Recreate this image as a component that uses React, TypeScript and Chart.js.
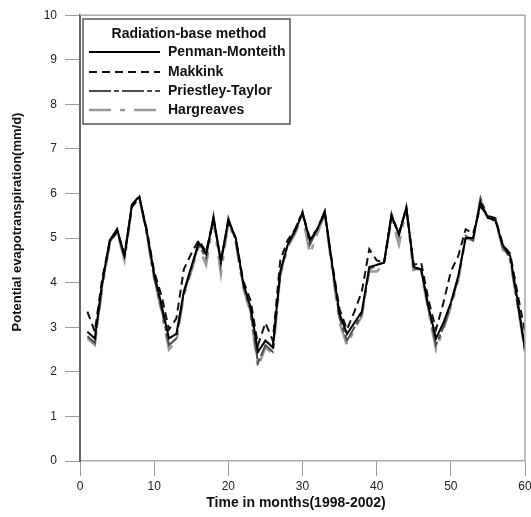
import React, { useEffect, useRef } from "react";
import { Chart, registerables } from "chart.js";

Chart.register(...registerables);

const months: number[] = Array.from({ length: 60 }, (_, i) => i + 1);

const penmanMonteith = [
  2.9, 2.75, 4.0, 4.95, 5.2, 4.6, 5.75, 5.93, 5.15, 4.2, 3.5, 2.75,
  2.85, 3.8, 4.35, 4.9, 4.65, 5.45, 4.5, 5.4, 5.0, 4.0, 3.45, 2.45,
  2.7, 2.55, 4.25, 4.85, 5.15, 5.57, 4.95, 5.2, 5.6, 4.4, 3.3, 2.85,
  3.1, 3.35, 4.35, 4.4, 4.45, 5.5, 5.1, 5.68, 4.35, 4.3, 3.45, 2.75,
  3.1, 3.55, 4.15, 5.0, 5.0, 5.8, 5.45, 5.4, 4.85, 4.6, 3.6, 2.5,
];

const makkink = [
  3.35, 2.9, 4.1, 4.9, 5.15, 4.65, 5.7, 5.9, 5.2, 4.25, 3.7, 2.95,
  3.2, 4.3, 4.65, 4.95, 4.7, 5.4, 4.5, 5.35, 5.0, 4.05, 3.6, 2.6,
  3.1, 2.7, 4.5, 4.95, 5.2, 5.55, 5.0, 5.2, 5.55, 4.45, 3.4, 2.95,
  3.35, 3.8, 4.75, 4.5, 4.45, 5.5, 5.1, 5.65, 4.4, 4.45, 3.6, 2.95,
  3.55, 4.25, 4.6, 5.2, 5.1, 5.7, 5.5, 5.45, 4.85, 4.65, 3.75, 2.9,
];

const priestleyTaylor = [
  2.8, 2.65, 3.95, 4.9, 5.2, 4.55, 5.75, 5.95, 5.1, 4.1, 3.4, 2.6,
  2.75, 3.75, 4.3, 4.85, 4.55, 5.5, 4.4, 5.45, 4.95, 3.95, 3.35, 2.2,
  2.6, 2.45, 4.2, 4.85, 5.2, 5.6, 4.85, 5.2, 5.6, 4.35, 3.2, 2.7,
  3.0, 3.3, 4.3, 4.4, 4.45, 5.55, 5.05, 5.7, 4.3, 4.3, 3.4, 2.6,
  3.0, 3.5, 4.1, 5.05, 4.95, 5.9, 5.45, 5.45, 4.8, 4.55, 3.5, 2.5,
];

const hargreaves = [
  2.75, 2.6, 3.9, 4.85, 5.15, 4.5, 5.7, 5.9, 5.1, 4.1, 3.35, 2.5,
  2.7, 3.7, 4.25, 4.8, 4.4, 5.4, 4.2, 5.35, 4.9, 3.9, 3.3, 2.1,
  2.55, 2.4, 4.15, 4.8, 5.1, 5.5, 4.65, 5.1, 5.55, 4.3, 3.1, 2.6,
  2.95, 3.25, 4.25, 4.25, 4.4, 5.45, 4.85, 5.65, 4.2, 4.25, 3.35, 2.5,
  2.95, 3.45, 4.05, 5.0, 4.95, 5.85, 5.4, 5.4, 4.75, 4.5, 3.5, 2.45,
];

const seriesNames = ["Penman-Monteith", "Makkink", "Priestley-Taylor", "Hargreaves"];
const legendTitle = "Radiation-base method";
const xTitle = "Time in months(1998-2002)";
const yTitle = "Potential evapotranspiration(mm/d)";

const styles = [
  { color: "#000000", dash: [] as number[], width: 2 },
  { color: "#111111", dash: [8, 5], width: 2 },
  { color: "#4d4d4d", dash: [22, 3, 5, 3], width: 2 },
  { color: "#9a9a9a", dash: [22, 9, 5, 9], width: 2.5 },
];

const FONT = "'Liberation Sans', Arial, sans-serif";

const decorPlugin = {
  id: "decor",
  afterDraw(chart: any) {
    const ctx = chart.ctx as CanvasRenderingContext2D;
    const a = chart.chartArea;
    ctx.save();
    // top and right frame
    ctx.strokeStyle = "#a8a8a8";
    ctx.lineWidth = 1.5;
    ctx.beginPath();
    ctx.moveTo(a.left, a.top);
    ctx.lineTo(a.right, a.top);
    ctx.lineTo(a.right, a.bottom);
    ctx.stroke();

    // legend box
    const bx = 83, by = 19, bw = 207, bh = 105;
    ctx.fillStyle = "#ffffff";
    ctx.fillRect(bx, by, bw, bh);
    ctx.strokeStyle = "#555555";
    ctx.lineWidth = 1.5;
    ctx.strokeRect(bx, by, bw, bh);

    ctx.fillStyle = "#111111";
    ctx.font = `bold 14px ${FONT}`;
    ctx.textAlign = "center";
    ctx.textBaseline = "middle";
    ctx.fillText(legendTitle, 189, 34);

    const rows = [52, 72, 91, 110];
    ctx.textAlign = "left";
    seriesNames.forEach((name, i) => {
      const s = styles[i];
      ctx.strokeStyle = s.color;
      ctx.lineWidth = s.width;
      ctx.setLineDash(s.dash);
      ctx.beginPath();
      ctx.moveTo(89, rows[i]);
      ctx.lineTo(160, rows[i]);
      ctx.stroke();
      ctx.setLineDash([]);
      ctx.fillStyle = "#111111";
      ctx.fillText(name, 168, rows[i]);
    });

    // axis titles
    ctx.font = `bold 14px ${FONT}`;
    ctx.textAlign = "center";
    ctx.textBaseline = "middle";
    ctx.fillStyle = "#111111";
    ctx.fillText(xTitle, 296, 503);
    ctx.font = `bold 13px ${FONT}`;
    ctx.translate(17, 222);
    ctx.rotate(-Math.PI / 2);
    ctx.fillText(yTitle, 0, 0);
    ctx.restore();
  },
};

export default function App() {
  const canvasRef = useRef<HTMLCanvasElement | null>(null);

  useEffect(() => {
    if (!canvasRef.current) return;
    const data = [penmanMonteith, makkink, priestleyTaylor, hargreaves];
    const chart = new Chart(canvasRef.current, {
      type: "line",
      data: {
        datasets: seriesNames.map((name, i) => ({
          label: name,
          data: months.map((m, j) => ({ x: m, y: data[i][j] })),
          borderColor: styles[i].color,
          borderWidth: styles[i].width,
          borderDash: styles[i].dash,
          pointRadius: 0,
          tension: 0,
          fill: false,
        })),
      },
      options: {
        responsive: false,
        maintainAspectRatio: false,
        animation: false,
        layout: { padding: { top: 14, right: 6, left: 0, bottom: 0 } },
        plugins: {
          legend: { display: false },
          tooltip: { enabled: false },
        },
        scales: {
          x: {
            type: "linear",
            min: 0,
            max: 60,
            ticks: {
              stepSize: 10,
              color: "#222222",
              font: { family: FONT, size: 12 },
              padding: 3,
            },
            grid: {
              drawOnChartArea: false,
              drawTicks: true,
              tickLength: 15,
              color: "#999999",
            },
            border: { color: "#aaaaaa", width: 1.5 },
            afterFit: (scale: any) => {
              scale.height = 56;
              scale.paddingRight = 0;
              scale.paddingLeft = 0;
            },
          },
          y: {
            min: 0,
            max: 10,
            ticks: {
              stepSize: 1,
              color: "#222222",
              font: { family: FONT, size: 12 },
              padding: 8,
            },
            grid: {
              drawOnChartArea: false,
              drawTicks: true,
              tickLength: 15,
              color: "#999999",
            },
            border: { color: "#666666", width: 2 },
            afterFit: (scale: any) => {
              scale.width = 80;
            },
          },
        },
      },
      plugins: [decorPlugin],
    });
    return () => chart.destroy();
  }, []);

  return (
    <div style={{ position: "absolute", left: 0, top: 0, width: 531, height: 517, background: "#fff" }}>
      <canvas ref={canvasRef} width={531} height={517} style={{ width: 531, height: 517 }} />
    </div>
  );
}
